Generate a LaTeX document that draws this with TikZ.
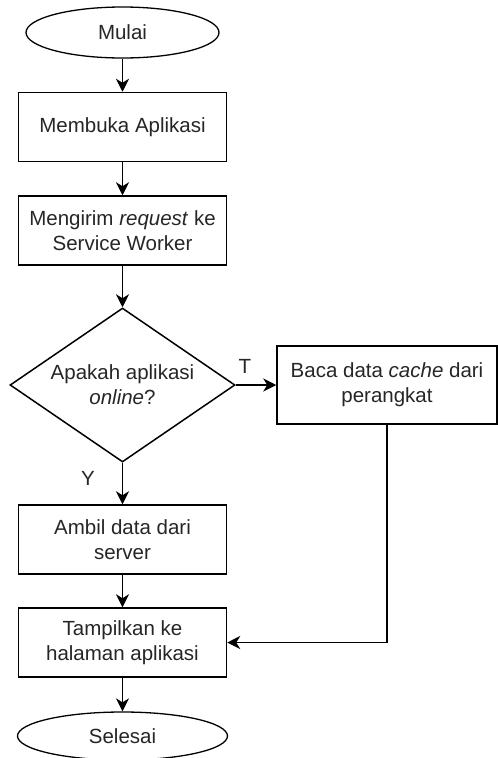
\documentclass[tikz,border=0pt]{standalone}
\usepackage{fontspec}
\setmainfont{Liberation Sans}
\usetikzlibrary{shapes.geometric,arrows.meta}
\begin{document}
\begin{tikzpicture}[x=1pt,y=-1pt,
 every node/.style={font=\fontsize{20.5}{25}\selectfont, text=black!85},
 box/.style={draw=black, rectangle, line width=1.5pt, minimum width=208pt, minimum height=69pt, align=center, inner sep=0pt},
 term/.style={draw=black, ellipse, line width=1.3pt, inner sep=0pt},
 decision/.style={draw=black, diamond, line width=1.5pt, minimum width=225pt, minimum height=154pt, inner sep=0pt},
 flow/.style={line width=1.5pt, -{Stealth[length=13pt,width=13pt,inset=4pt]}}
]
\useasboundingbox (0,0) rectangle (498,758);
\node[term, minimum width=193pt, minimum height=51pt] (start) at (122.5,32.5) {Mulai};
\node[box] (open) at (122.5,127) {Membuka Aplikasi};
\node[box] (req) at (122.5,230.5) {Mengirim \textit{request} ke\\Service Worker};
\node[decision] (dec) at (122.5,385) {};
\node[align=center] (q) at (dec) {Apakah aplikasi\\\textit{online}?};
\node[box, minimum width=220pt, minimum height=78pt] (cache) at (387,385) {Baca data \textit{cache} dari\\perangkat};
\node[box] (fetch) at (122.5,539.5) {Ambil data dari\\server};
\node[box] (show) at (122.5,642.5) {Tampilkan ke\\halaman aplikasi};
\node[term, minimum width=210pt, minimum height=48pt] (end) at (122.5,736) {Selesai};
\node (tlbl) at (245,366) {T};
\node (ylbl) at (88,478) {Y};
\draw[flow] (start) -- (open);
\draw[flow] (open) -- (req);
\draw[flow] (req) -- (dec);
\draw[flow] (dec) -- (cache);
\draw[flow] (dec) -- (fetch);
\draw[flow] (fetch) -- (show);
\draw[flow] (show) -- (end);
\draw[flow] (cache.south) |- (show.east);
\end{tikzpicture}
\end{document}
